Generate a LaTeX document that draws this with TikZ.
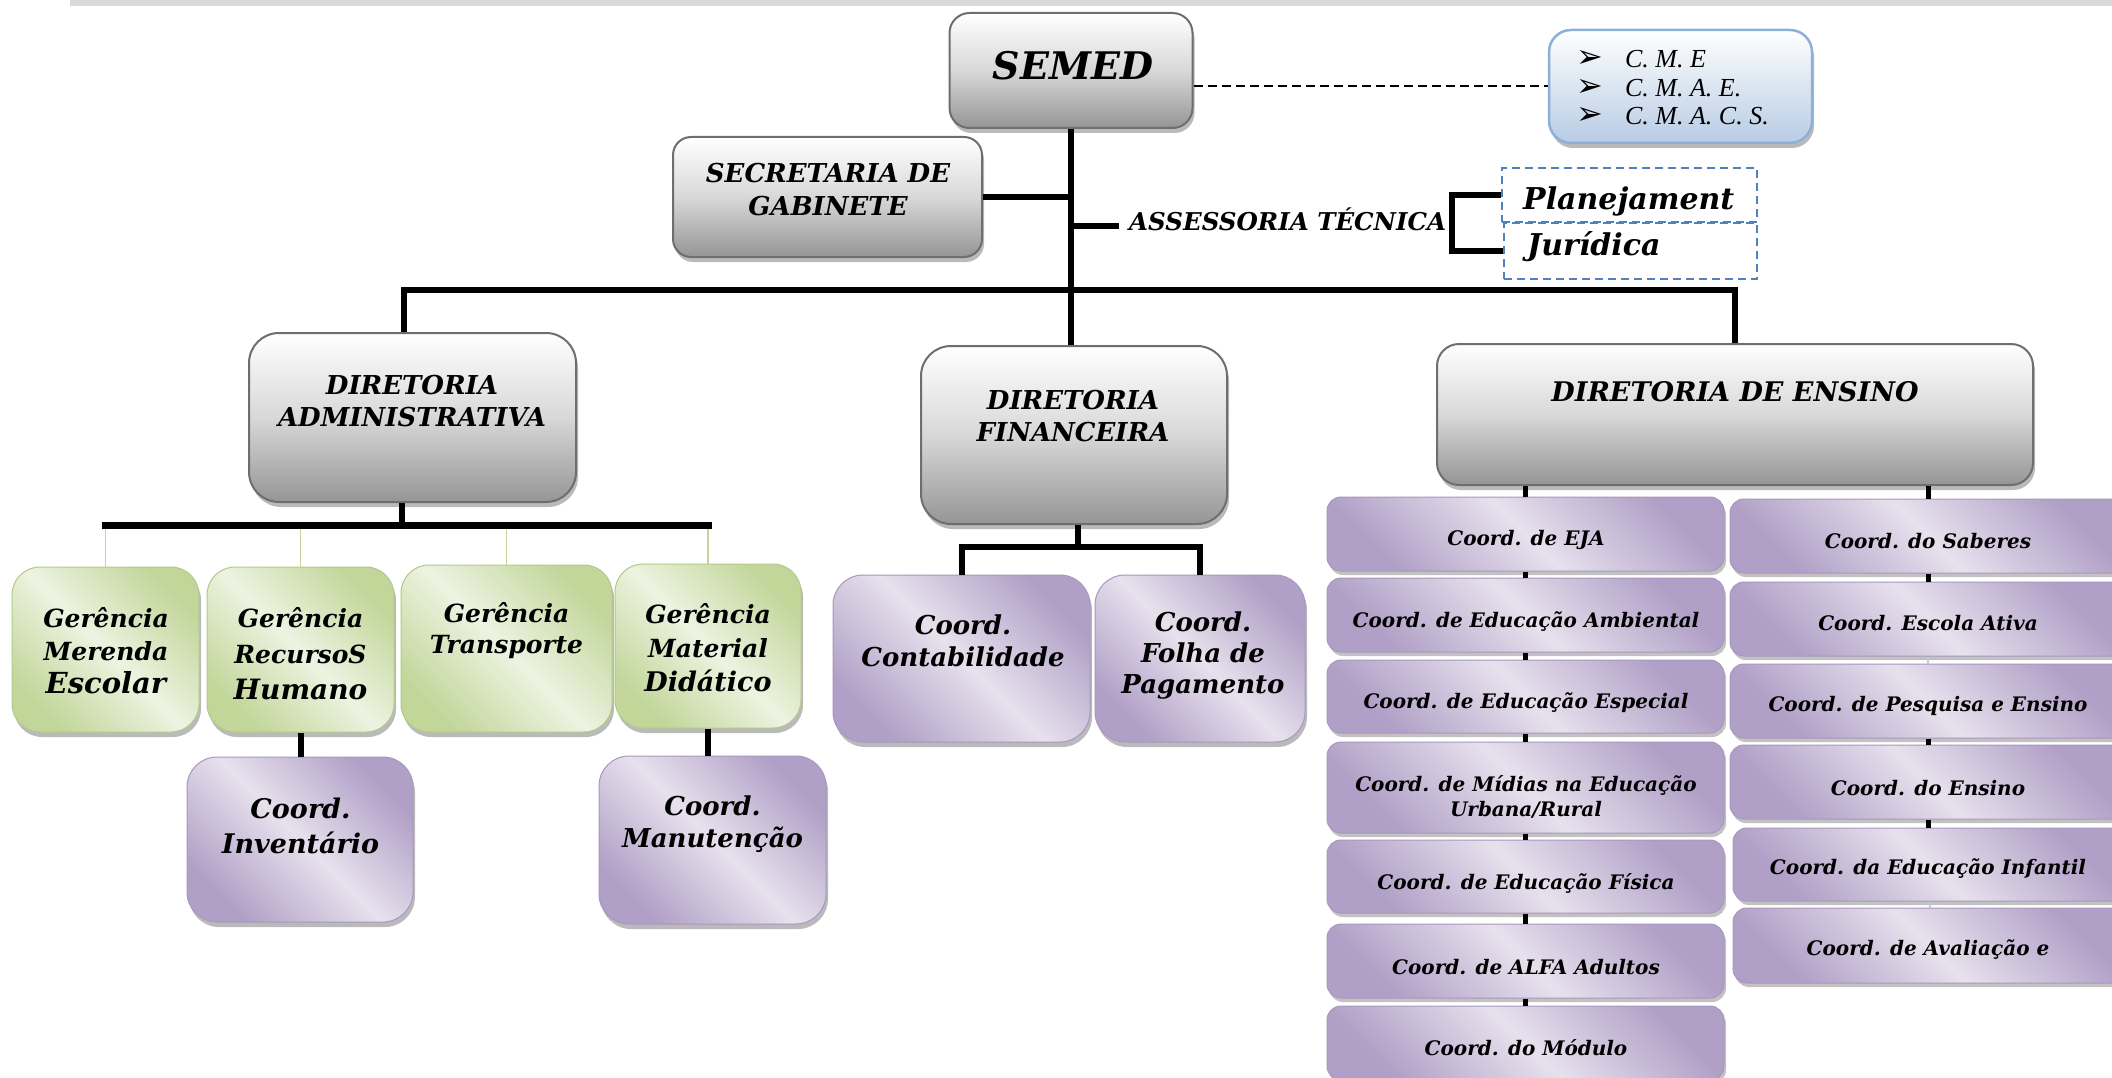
\documentclass[tikz,border=0pt]{standalone}
\usepackage{fontspec}
\setmainfont{DejaVu Serif}
\newfontfamily\cmefont{Liberation Serif}
\newfontfamily\symfont{DejaVu Sans}
\usetikzlibrary{shadows}
\definecolor{grayD}{HTML}{959595}
\definecolor{grayM}{HTML}{D8D8D8}
\definecolor{grayB}{HTML}{6E6E6E}
\definecolor{purD}{HTML}{B09FC6}
\definecolor{purL}{HTML}{E7E1ED}
\definecolor{purB}{HTML}{A897BE}
\definecolor{grnD}{HTML}{C2D69A}
\definecolor{grnL}{HTML}{EDF3E1}
\definecolor{grnB}{HTML}{B3C98A}
\definecolor{bluD}{HTML}{B8CCE4}
\definecolor{bluB}{HTML}{8EB0D8}
\definecolor{dashB}{HTML}{4F81BD}
\definecolor{topbar}{HTML}{D9D9D9}
\newcommand\fs[2]{\fontsize{#1}{#2}\selectfont}
\newcommand\bul{\smash{\symfont\fs{32}{32}\char"27A2}}
\begin{document}
\begin{tikzpicture}[x=1pt,y=-1pt,line join=miter,
  conn/.style={line width=6pt,draw=black},
  tick/.style={line width=5pt,draw=black},
  ftick/.style={line width=2pt,draw=bluD},
  gconn/.style={line width=1.6pt,draw=grnD},
  dline/.style={line width=2pt,draw=black,dash pattern=on 9pt off 5pt},
  sz/.style 2 args={minimum width=#1pt,minimum height=#2pt},
  shd/.style={drop shadow={shadow xshift=2pt,shadow yshift=-5pt,fill=black!60,opacity=.45}},
  sshd/.style={drop shadow={shadow xshift=2pt,shadow yshift=-4pt,fill=black!60,opacity=.4}},
  graybox/.style={shape=rectangle,inner sep=0pt,draw=grayB,line width=2pt,rounded corners=#1,
     top color=white,bottom color=grayD,middle color=grayM,shd},
  bluebox/.style={shape=rectangle,inner sep=0pt,draw=bluB,line width=2.5pt,rounded corners=22pt,
     top color=white,bottom color=bluD,shd},
  greenbox/.style={shape=rectangle,inner sep=0pt,draw=grnB,line width=1pt,rounded corners=28pt,
     top color=grnD,bottom color=grnD,middle color=grnL,shading angle=-45,shd},
  purbox/.style={shape=rectangle,inner sep=0pt,draw=purB,line width=1pt,rounded corners=#1,
     top color=purD,bottom color=purD,middle color=purL,shading angle=-45,shd},
  colbox/.style={shape=rectangle,inner sep=0pt,draw=purB,line width=1pt,rounded corners=14pt,
     top color=purD,bottom color=purD,middle color=purL,shading angle=-45,sshd},
  dbox/.style={shape=rectangle,inner sep=0pt,draw=dashB,line width=2pt,dash pattern=on 8pt off 5pt,fill=white},
  t/.style 2 args={inner sep=0pt,align=center,font=\bfseries\itshape\fs{#1}{#2}}
]
\path[use as bounding box] (0,0) rectangle (2112,1078);
\clip (0,0) rectangle (2112,1078);
\fill[topbar] (70,0) rectangle (2112,6);

% top level
\node[graybox=20pt,sz={243}{115}] (semed) at (1071,70.5) {};
\node[t={38}{44}] (semedt) at (1073,66) {SEMED};
\node[bluebox,sz={263}{113}] (cme) at (1680.5,86.5) {};
\node[anchor=west,inner sep=0pt,align=left,font=\cmefont\itshape\fs{26}{28.5}] (cmet) at (1576,88)
  {\bul\hspace{22pt}C. M. E\\\bul\hspace{22pt}C. M. A. E.\\\bul\hspace{22pt}C. M. A. C. S.};
\draw[dline] (semed.east |- cme.west) -- (cme.west);

\node[graybox=18pt,sz={309}{120}] (sec) at (827.5,197) {};
\node[t={26}{33}] (sect) at (828,190) {SECRETARIA DE\\GABINETE};

\node[t={24.5}{28},anchor=west] (asst) at (1129,219) {ASSESSORIA TÉCNICA};
\coordinate (aL) at (1071,226);

\node[dbox,sz={255}{54}] (plan) at (1629.5,195) {};
\node[dbox,sz={253}{56}] (jur) at (1630.5,251) {};
\node[t={30}{34},anchor=base west] (plant) at (1523,210) {Planejament};
\node[t={30}{34},anchor=base west] (jurt) at (1527,255) {Jurídica};

% directorates
\node[graybox=30pt,sz={327}{169}] (da) at (412.5,417.5) {};
\node[t={26}{32}] (dat) at (412,401) {DIRETORIA\\ADMINISTRATIVA};
\node[graybox=30pt,sz={306}{178}] (df) at (1074,435) {};
\node[t={26}{32}] (dft) at (1073,416) {DIRETORIA\\FINANCEIRA};
\node[graybox=22pt,sz={596}{141}] (de) at (1735,414.5) {};
\node[t={27}{32}] (det) at (1735,392) {DIRETORIA DE ENSINO};

% connectors top
\draw[conn] (semed.south) -- (semed.south |- df.north);
\draw[conn] (sec.east) -- (sec.east -| semed.south);
\draw[conn] (aL) -- ++(48,0);
\draw[conn] (plan.west) -- ++(-49,0) |- (jur.west);
\coordinate (jL) at (404,290);
\draw[conn] (jL |- da.north) -- (jL) -- (jL -| de.north) -- (de.north);

% gerencias
\node[greenbox,sz={187}{165}] (g1) at (105.5,649.5) {};
\node[greenbox,sz={187}{165}] (g2) at (300.5,649.5) {};
\node[greenbox,sz={211}{167}] (g3) at (506.5,648.5) {};
\node[greenbox,sz={186}{164}] (g4) at (708,646) {};
\node[t={25}{33}] (g1t) at (106,651) {Gerência\\Merenda\\{\fs{29}{33}Escolar}};
\node[t={25}{36}] (g2t) at (300.5,654) {Gerência\\RecursoS\\{\fs{28}{36}Humano}};
\node[t={25}{31}] (g3t) at (506.5,631) {Gerência\\Transporte};
\node[t={25}{34}] (g4t) at (708,648) {Gerência\\Material\\{\fs{27}{34}Didático}};
\coordinate (gb) at (402,525);
\foreach \g in {g1,g2,g3,g4} \draw[gconn] (\g.north |- gb) -- (\g.north);
\draw[conn] (gb |- da.south) -- (gb);
\draw[line width=7pt,line cap=rect] (g1.north |- gb) -- (g4.north |- gb);

\node[purbox=30pt,sz={226}{165}] (inv) at (300,839.5) {};
\node[t={27}{35}] (invt) at (300.5,825.5) {Coord.\\Inventário};
\node[purbox=30pt,sz={227}{168}] (man) at (712.5,840) {};
\node[t={26}{32}] (mant) at (712.5,824) {Coord.\\Manutenção};
\draw[conn] (g2.south) -- (g2.south |- inv.north);
\draw[conn] (g4.south) -- (g4.south |- man.north);

% financeira
\node[purbox=30pt,sz={257}{167}] (cont) at (961.5,658.5) {};
\node[t={26}{32}] (contt) at (963,641) {Coord.\\Contabilidade};
\node[purbox=30pt,sz={210}{167}] (folha) at (1200,658.5) {};
\node[t={26}{31}] (folhat) at (1203,656) {Coord.\\Folha de\\Pagamento};
\coordinate (fb) at (1078,547);
\draw[conn] (fb |- df.south) -- (fb);
\draw[conn] (cont.north) -- (cont.north |- fb) -- (folha.north |- fb) -- (folha.north);

% ensino left column
\node[colbox,sz={397}{74}] (L1) at (1525.5,534) {};
\node[colbox,sz={397}{74}] (L2) at (1525.5,615) {};
\node[colbox,sz={397}{73}] (L3) at (1525.5,696.5) {};
\node[colbox,sz={397}{91}] (L4) at (1525.5,787.5) {};
\node[colbox,sz={397}{73}] (L5) at (1525.5,876.5) {};
\node[colbox,sz={397}{74}] (L6) at (1525.5,961) {};
\node[colbox,sz={397}{74}] (L7) at (1525.5,1043) {};
\node[t={20}{25}] (L1t) at (1526,540) {Coord. de EJA};
\node[t={20}{25}] (L2t) at (1526,622) {Coord. de Educação Ambiental};
\node[t={20}{25}] (L3t) at (1526,703) {Coord. de Educação Especial};
\node[t={20}{25}] (L4t) at (1526,797) {Coord. de Mídias na Educação\\Urbana/Rural};
\node[t={20}{25}] (L5t) at (1526,883) {Coord. de Educação Física};
\node[t={20}{25}] (L6t) at (1526,967) {Coord. de ALFA Adultos};
\node[t={20}{25}] (L7t) at (1526,1048) {Coord. do Módulo};
\draw[tick] (L1.north |- de.south) -- (L1.north);
\foreach \a/\b in {L1/L2,L2/L3,L3/L4,L4/L5,L5/L6,L6/L7} \draw[tick] (\a.south) -- (\b.north);

% ensino right column
\node[colbox,sz={396}{74}] (R1) at (1928,536) {};
\node[colbox,sz={396}{74}] (R2) at (1928,619) {};
\node[colbox,sz={396}{74}] (R3) at (1928,701) {};
\node[colbox,sz={396}{74}] (R4) at (1928,782) {};
\node[colbox,sz={393}{73}] (R5) at (1929.5,864.5) {};
\node[colbox,sz={393}{75}] (R6) at (1929.5,945.5) {};
\node[t={20}{25}] (R1t) at (1928,541) {Coord. do Saberes};
\node[t={20}{25}] (R2t) at (1928,623) {Coord. Escola Ativa};
\node[t={20}{25}] (R3t) at (1928,706) {Coord. de Pesquisa e Ensino};
\node[t={20}{25}] (R4t) at (1928,788) {Coord. do Ensino};
\node[t={20}{25}] (R5t) at (1928,869) {Coord. da Educação Infantil};
\node[t={20}{25}] (R6t) at (1928,950) {Coord. de Avaliação e};
\draw[tick] (R1.north |- de.south) -- (R1.north);
\draw[tick] (R1.south) -- (R2.north);
\draw[ftick] (R2.south) -- (R3.north);
\draw[tick] (R3.south) -- (R4.north);
\draw[tick] (R4.south) -- (R4.south |- R5.north);
\draw[ftick] (R5.south) -- (R6.north);
\end{tikzpicture}
\end{document}
